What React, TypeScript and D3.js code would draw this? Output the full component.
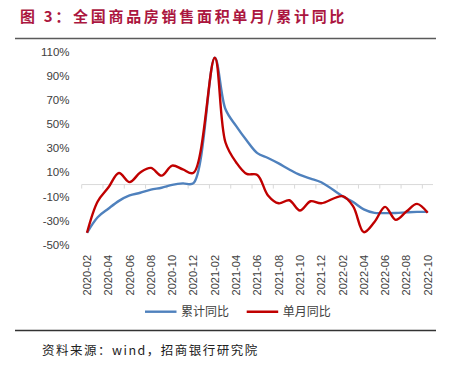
import * as d3 from "d3";
import { useEffect, useRef } from "react";

// months on the category axis (Jan values are not published, left empty)
const months = [
  "2020-02", "2020-03", "2020-04", "2020-05", "2020-06", "2020-07", "2020-08", "2020-09", "2020-10", "2020-11", "2020-12",
  "2021-01", "2021-02", "2021-03", "2021-04", "2021-05", "2021-06", "2021-07", "2021-08", "2021-09", "2021-10", "2021-11", "2021-12",
  "2022-01", "2022-02", "2022-03", "2022-04", "2022-05", "2022-06", "2022-07", "2022-08", "2022-09", "2022-10",
];
// 累计同比 (%)
const cumYoY = [
  -39.9, -27, -20, -13.5, -9, -6.8, -4.2, -2.6, -0.3, 1, 1.2,
  null, 104.9, 62.5, 48.5, 36.4, 26, 22, 17.5, 12.5, 8, 5, 1.9,
  null, -9.6, -14.5, -20.5, -23.4, -23.6, -23.5, -23, -22.6, -22.6,
];
// 单月同比 (%)
const monthYoY = [
  -39.9, -14, -2.5, 9.6, 2, 10, 13.8, 7.4, 15.7, 12.5, 9.7,
  null, 104.9, 35, 18.5, 8.8, 8, -9, -15.5, -13, -21.5, -13.8, -15.5,
  null, -9.6, -18, -39.4, -31, -18.5, -29.2, -22.3, -16, -23.4,
];
const yTicks = [110, 90, 70, 50, 30, 10, -10, -30, -50];

const W = 457;
const H = 370;

export default function App() {
  const svgRef = useRef(null);

  useEffect(() => {
    const svg = d3.select(svgRef.current);
    svg.selectAll("*").remove();

    const x = d3.scaleBand().domain(months).range([81.7, 433]).padding(0);
    const y = d3.scaleLinear().domain([-50, 110]).range([245, 51.6]);
    const cx = (m) => x(m) + x.bandwidth() / 2;

    //TITLE
    svg.append("text")
      .attr("x", 20).attr("y", 22)
      .attr("font-family", "Noto Sans CJK SC")
      .attr("font-weight", 700)
      .attr("font-size", 15)
      .attr("letter-spacing", 2.7)
      .attr("fill", "#ab1640")
      .text("图 3：全国商品房销售面积单月/累计同比");

    svg.append("line")
      .attr("x1", 15).attr("x2", 436).attr("y1", 38.5).attr("y2", 38.5)
      .attr("stroke", "#5a5a5a").attr("stroke-width", 1.5);

    //Y LABELS
    svg.append("g").selectAll("text").data(yTicks).enter().append("text")
      .attr("x", 69.5).attr("y", (d) => y(d) + 4)
      .attr("text-anchor", "end")
      .attr("font-family", "Liberation Sans, Arial, sans-serif")
      .attr("font-size", 11.5)
      .attr("fill", "#404040")
      .text((d) => `${d}%`);

    //ZERO AXIS + TICKS every 2 months
    const ax = svg.append("g");
    ax.append("line")
      .attr("x1", 81.7).attr("x2", 433).attr("y1", y(0)).attr("y2", y(0))
      .attr("stroke", "#d9d9d9").attr("stroke-width", 1);
    const tickMonths = months.filter((m, i) => i % 2 === 0);
    ax.selectAll("line.t").data(tickMonths).enter().append("line")
      .attr("class", "t")
      .attr("x1", (d) => x(d)).attr("x2", (d) => x(d))
      .attr("y1", y(0)).attr("y2", y(0) + 4)
      .attr("stroke", "#d9d9d9");

    //X LABELS (rotated)
    svg.append("g").selectAll("text").data(tickMonths).enter().append("text")
      .attr("transform", (d) => `translate(${cx(d) + 4},255) rotate(-90)`)
      .attr("text-anchor", "end")
      .attr("font-family", "Liberation Sans, Arial, sans-serif")
      .attr("font-size", 11)
      .attr("fill", "#404040")
      .text((d) => d);

    //LINES
    const line = d3.line()
      .x((d) => cx(d.m))
      .y((d) => y(d.v))
      .curve(d3.curveCatmullRom.alpha(0.5));
    const series = [
      { name: "累计同比", values: cumYoY, color: "#4f81bd" },
      { name: "单月同比", values: monthYoY, color: "#c00000" },
    ];
    series.forEach((s) => {
      const pts = months
        .map((m, i) => ({ m, v: s.values[i] }))
        .filter((d) => d.v !== null);
      svg.append("path")
        .attr("d", line(pts))
        .attr("fill", "none")
        .attr("stroke", s.color)
        .attr("stroke-width", 2.4)
        .attr("stroke-linejoin", "round");
    });

    //LEGEND
    const lg = svg.append("g");
    const lx = [145, 246.7];
    series.forEach((s, i) => {
      lg.append("line")
        .attr("x1", lx[i]).attr("x2", lx[i] + 31.5)
        .attr("y1", 311.7).attr("y2", 311.7)
        .attr("stroke", s.color).attr("stroke-width", 2.4);
      lg.append("text")
        .attr("x", lx[i] + 36).attr("y", 316)
        .attr("font-family", "Noto Sans CJK SC")
        .attr("font-size", 12)
        .attr("fill", "#404040")
        .text(s.name);
    });

    svg.append("line")
      .attr("x1", 15).attr("x2", 436).attr("y1", 330.5).attr("y2", 330.5)
      .attr("stroke", "#333").attr("stroke-width", 1.3);

    //SOURCE
    svg.append("text")
      .attr("x", 42).attr("y", 355)
      .attr("font-family", "Noto Sans CJK SC")
      .attr("font-size", 12.5)
      .attr("letter-spacing", 1.5)
      .attr("fill", "#222")
      .text("资料来源：wind，招商银行研究院");
  }, []);

  return (
    <svg
      ref={svgRef}
      width={W}
      height={H}
      style={{ position: "absolute", left: 0, top: 0, background: "#fff" }}
    />
  );
}
